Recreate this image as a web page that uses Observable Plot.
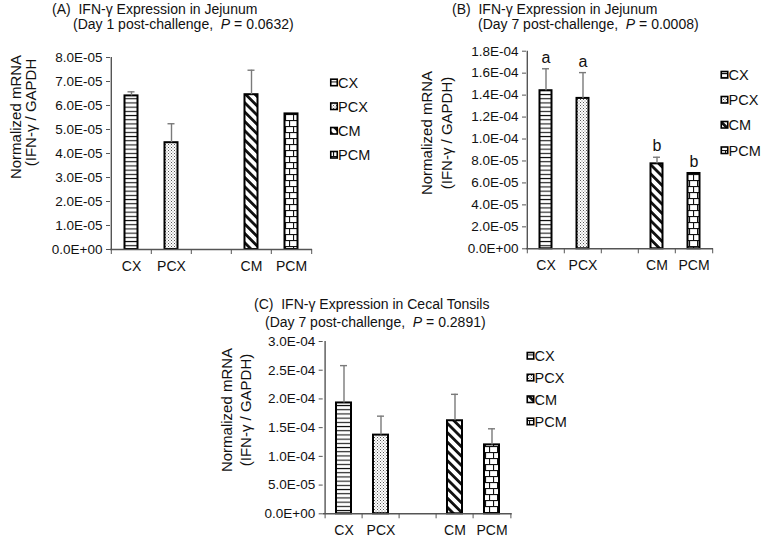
<!DOCTYPE html>
<html><head><meta charset="utf-8">
<script src="https://cdn.jsdelivr.net/npm/d3@7"></script>
<script src="https://cdn.jsdelivr.net/npm/@observablehq/plot@0.6"></script>
<style>
body{margin:0;background:#fff;}
#wrap{position:relative;width:763px;height:540px;overflow:hidden;font-family:"Liberation Sans",Arial,Helvetica,sans-serif;background:#fff;}
#wrap > svg{position:absolute;}
</style></head><body><div id="wrap"></div>
<script>
// ---- data ----
const categories = ["CX", "PCX", "CM", "PCM"];
const groupGap = " ";
const valuesA = [6.40e-5, 4.45e-5, 6.45e-5, 5.65e-5];
const errorsA = [0.17e-5, 0.79e-5, 1.02e-5, 0];
const ticksA = [0, 1e-5, 2e-5, 3e-5, 4e-5, 5e-5, 6e-5, 7e-5, 8e-5];
const valuesB = [1.44e-4, 1.37e-4, 0.774e-4, 0.686e-4];
const errorsB = [0.20e-4, 0.235e-4, 0.06e-4, 0];
const lettersB = ["a", "a", "b", "b"];
const ticksB = [0, 2e-5, 4e-5, 6e-5, 8e-5, 1.0e-4, 1.2e-4, 1.4e-4, 1.6e-4, 1.8e-4];
const valuesC = [1.93e-4, 1.37e-4, 1.62e-4, 1.20e-4];
const errorsC = [0.65e-4, 0.33e-4, 0.46e-4, 0.28e-4];
const ticksC = [0, 5e-5, 1.0e-4, 1.5e-4, 2.0e-4, 2.5e-4, 3.0e-4];
const titlesA = ["(A)  IFN-γ Expression in Jejunum", "(Day 1 post-challenge,  ", "P", " = 0.0632)"];
const titlesB = ["(B)  IFN-γ Expression in Jejunum", "(Day 7 post-challenge,  ", "P", " = 0.0008)"];
const titlesC = ["(C)  IFN-γ Expression in Cecal Tonsils", "(Day 7 post-challenge,  ", "P", " = 0.2891)"];
const yLabelA = ["Normalized mRNA", "(IFN-γ / GAPDH"];
const yLabelB = ["Normalized mRNA", "(IFN-γ / GAPDH)"];
const yLabelC = ["Normalized mRNA", "(IFN-γ / GAPDH)"];

// ---- styles ----
const FONT = '"Liberation Sans", Arial, Helvetica, sans-serif';
const AXIS = "#555";
const ERR = "#7a7a7a";
const patterns = {CX: "url(#pat-cx)", PCX: "url(#pat-pcx)", CM: "url(#pat-cm)", PCM: "url(#pat-pcm)"};
const NS = "http://www.w3.org/2000/svg";
const wrap = document.getElementById("wrap");

function el(tag, attrs, parent) {
  const e = document.createElementNS(NS, tag);
  for (const k in attrs) e.setAttribute(k, attrs[k]);
  if (parent) parent.appendChild(e);
  return e;
}

// pattern definitions
const defsSvg = el("svg", {width: 0, height: 0, style: "position:absolute;left:0;top:0"}, wrap);
const defs = el("defs", {}, defsSvg);
{
  const p1 = el("pattern", {id: "pat-cx", width: 4, height: 4.2, patternUnits: "userSpaceOnUse"}, defs);
  el("rect", {width: 4, height: 4.2, fill: "#fff"}, p1);
  el("rect", {x: 0, y: 1.6, width: 4, height: 1.1, fill: "#111"}, p1);
  const p2 = el("pattern", {id: "pat-pcx", width: 3, height: 3, patternUnits: "userSpaceOnUse"}, defs);
  el("rect", {width: 3, height: 3, fill: "#fff"}, p2);
  el("rect", {x: 0, y: 0, width: 1, height: 1, fill: "#555"}, p2);
  el("rect", {x: 1.5, y: 1.5, width: 1, height: 1, fill: "#777"}, p2);
  const p3 = el("pattern", {id: "pat-cm", width: 6.6, height: 6.6, patternUnits: "userSpaceOnUse", patternTransform: "rotate(-45)"}, defs);
  el("rect", {width: 6.6, height: 6.6, fill: "#fff"}, p3);
  el("rect", {x: 0, y: 0, width: 2.8, height: 6.6, fill: "#111"}, p3);
  const p4 = el("pattern", {id: "pat-pcm", width: 8, height: 12, patternUnits: "userSpaceOnUse"}, defs);
  el("rect", {width: 8, height: 12, fill: "#fff"}, p4);
  el("rect", {x: 0, y: 0, width: 8, height: 1.1, fill: "#111"}, p4);
  el("rect", {x: 0, y: 6, width: 8, height: 1.1, fill: "#111"}, p4);
  el("rect", {x: 1, y: 0, width: 1.1, height: 6, fill: "#111"}, p4);
  el("rect", {x: 5, y: 6, width: 1.1, height: 6, fill: "#111"}, p4);
}

const fmtE = d => {
  const [m, e] = d.toExponential(1).split("e");
  const n = +e;
  return m + "E" + (n < 0 ? "-" : "+") + String(Math.abs(n)).padStart(2, "0");
};

function panel(o) {
  const data = categories.map((c, i) => ({cat: c, v: o.values[i], e: o.errors[i], lab: o.letters ? o.letters[i] : ""}));
  const withErr = data.filter(d => d.e > 0);
  const domain = [categories[0], categories[1], groupGap, categories[2], categories[3]];
  const slot = (o.width - o.ml - o.mr) / domain.length;
  const marks = [
    Plot.barY(data, {x: "cat", y: "v", fill: d => patterns[d.cat], stroke: "#000", strokeWidth: 2,
      insetLeft: o.barInset, insetRight: o.barInset}),
    Plot.ruleX(withErr, {x: "cat", y1: "v", y2: d => d.v + d.e, stroke: ERR, strokeWidth: 1.4}),
    Plot.tickY(withErr, {x: "cat", y: d => d.v + d.e, stroke: ERR, strokeWidth: 1.4,
      insetLeft: o.capInset, insetRight: o.capInset}),
    Plot.ruleY([0], {stroke: AXIS, strokeWidth: 1.4}),
    Plot.ruleX([domain[0]], {dx: -slot / 2, stroke: AXIS, strokeWidth: 1.4}),
    Plot.axisY({ticks: o.ticks, tickSize: 4, tickPadding: 4, tickFormat: fmtE, fontSize: 13.5, stroke: AXIS}),
    Plot.axisX({ticks: domain, tickSize: 5, tickFormat: () => "", dx: -slot / 2, stroke: AXIS}),
    Plot.axisX({ticks: [domain[domain.length - 1]], tickSize: 5, tickFormat: () => "", dx: slot / 2, stroke: AXIS}),
    Plot.axisX({ticks: domain, tickSize: 0, tickPadding: 11.5, fontSize: 14})
  ];
  if (o.letters) marks.push(Plot.text(data, {x: "cat", y: d => d.v + d.e, text: "lab", lineAnchor: "bottom", dy: -6, fontSize: 16}));
  const svg = Plot.plot({
    width: o.width, height: o.height,
    marginLeft: o.ml, marginRight: o.mr, marginTop: o.mt, marginBottom: o.mb,
    style: {background: "transparent", fontFamily: FONT, fontSize: "13px", color: "#111", overflow: "visible"},
    x: {type: "band", domain, paddingInner: 0, paddingOuter: 0, label: null},
    y: {domain: [0, o.yMax], label: null},
    color: {type: "identity"},
    marks
  });
  svg.style.left = o.left + "px";
  svg.style.top = o.top + "px";
  wrap.appendChild(svg);
}

panel({values: valuesA, errors: errorsA, ticks: ticksA, yMax: 8e-5,
  left: 0, top: 0, width: 330, height: 280, ml: 110, mr: 18, mt: 57, mb: 31, barInset: 13.5, capInset: 16.5});
panel({values: valuesB, errors: errorsB, letters: lettersB, ticks: ticksB, yMax: 1.8e-4,
  left: 400, top: 0, width: 320, height: 280, ml: 126, mr: 7, mt: 50.7, mb: 31.7, barInset: 12.5, capInset: 15});
panel({values: valuesC, errors: errorsC, ticks: ticksC, yMax: 3e-4,
  left: 200, top: 290, width: 320, height: 250, ml: 122.7, mr: 8.3, mt: 51, mb: 26.7, barInset: 11, capInset: 15});

// ---- titles, y labels, legends ----
const ov = el("svg", {width: 763, height: 540, style: "position:absolute;left:0;top:0;pointer-events:none",
  "font-family": FONT, fill: "#111"}, wrap);

function title(t, x1, y1, x2, y2) {
  const a = el("text", {x: x1, y: y1, "font-size": 14, style: "white-space:pre"}, ov);
  a.textContent = t[0];
  const b = el("text", {x: x2, y: y2, "font-size": 14, style: "white-space:pre"}, ov);
  const s1 = el("tspan", {}, b); s1.textContent = t[1];
  const s2 = el("tspan", {"font-style": "italic"}, b); s2.textContent = t[2];
  const s3 = el("tspan", {}, b); s3.textContent = t[3];
}
title(titlesA, 52, 14, 73, 28.7);
title(titlesB, 452, 14, 478, 29);
title(titlesC, 254, 309, 265, 327);

function ylabel(lines, x1, c1, x2, c2) {
  const a = el("text", {transform: `translate(${x1},${c1}) rotate(-90)`, "text-anchor": "middle", "font-size": 15}, ov);
  a.textContent = lines[0];
  const b = el("text", {transform: `translate(${x2},${c2}) rotate(-90)`, "text-anchor": "middle", "font-size": 15}, ov);
  b.textContent = lines[1];
}
ylabel(yLabelA, 20.5, 117, 35.5, 112.5);
ylabel(yLabelB, 432, 133, 451.5, 133);
ylabel(yLabelC, 232, 410, 250.5, 410);

function legend(x, ys) {
  categories.forEach((c, i) => {
    el("rect", {x: x + 0.75, y: ys[i] - 3.5, width: 6.5, height: 6.5, fill: patterns[c], stroke: "#000", "stroke-width": 1.6}, ov);
    const t = el("text", {x: x + 8, y: ys[i] + 5, "font-size": 14.5}, ov);
    t.textContent = c;
  });
}
legend(330, [82.7, 106.5, 131, 155]);
legend(720.5, [75, 100, 125, 150.5]);
legend(526.5, [356, 377.8, 399.5, 421.7]);
</script></body></html>
